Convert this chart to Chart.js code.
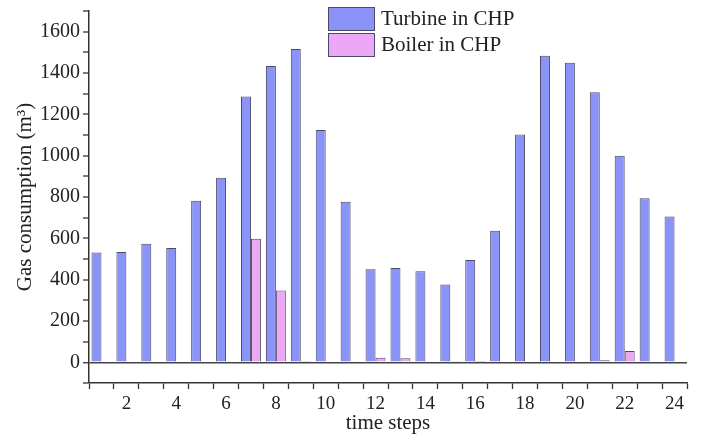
<!DOCTYPE html>
<html>
<head>
<meta charset="utf-8">
<script src="https://cdn.jsdelivr.net/npm/chart.js@4/dist/chart.umd.min.js"></script>
<style>
  html, body { margin: 0; padding: 0; background: #fff; }
  #wrap { width: 704px; height: 436px; }
</style>
</head>
<body>
<div id="wrap"><canvas id="chart"></canvas></div>
<script>
'use strict';
// data
const timeSteps = ['1','2','3','4','5','6','7','8','9','10','11','12','13','14','15','16','17','18','19','20','21','22','23','24'];
const turbine = [532, 534, 574, 553, 782, 893, 1286, 1434, 1516, 1124, 777, 451, 456, 441, 377, 495, 637, 1102, 1484, 1450, 1307, 999, 794, 706];
const boiler = [0, 0, 0, 0, 0, 0, 598, 348, 2, 0, 3, 22, 20, 3, 5, 1, 0, 0, 0, 0, 10, 55, 0, 0];
const seriesNames = ['Turbine in CHP', 'Boiler in CHP'];
const yLabels = [0, 200, 400, 600, 800, 1000, 1200, 1400, 1600];

const FONT = '"Liberation Serif", "Times New Roman", serif';
const INK = '#222';
const EDGE = '#4a4a66';

// legend drawn inside the plot, like the original
const boxLegend = {
  id: 'boxLegend',
  afterDraw(chart) {
    const ctx = chart.ctx;
    ctx.save();
    chart.data.datasets.forEach(function (ds, i) {
      const y = 7 + i * 26;
      ctx.fillStyle = ds.backgroundColor;
      ctx.fillRect(328, y, 47, 24);
      ctx.strokeStyle = EDGE;
      ctx.lineWidth = 1;
      ctx.strokeRect(328.5, y + 0.5, 46, 23);
      ctx.fillStyle = INK;
      ctx.font = '21px ' + FONT;
      ctx.textBaseline = 'middle';
      ctx.fillText(ds.label, 381, y + 12);
    });
    ctx.restore();
  }
};

new Chart(document.getElementById('chart'), {
  type: 'bar',
  data: {
    labels: timeSteps,
    datasets: [
      {
        label: seriesNames[0],
        data: turbine,
        backgroundColor: '#8a93f8',
        borderColor: EDGE,
        borderWidth: 1,
        categoryPercentage: 0.8,
        barPercentage: 1.0
      },
      {
        label: seriesNames[1],
        data: boiler,
        backgroundColor: '#eca8f4',
        borderColor: EDGE,
        borderWidth: 1,
        categoryPercentage: 0.8,
        barPercentage: 1.0
      }
    ]
  },
  options: {
    responsive: true,
    maintainAspectRatio: false,
    animation: false,
    layout: { padding: { left: 0, right: 17, top: 11, bottom: 0 } },
    plugins: {
      legend: { display: false },
      tooltip: { enabled: false }
    },
    scales: {
      x: {
        grid: {
          display: true,
          drawOnChartArea: false,
          tickLength: 6,
          tickColor: '#333',
          tickWidth: 1.3
        },
        border: { display: true, color: '#333', width: 1.5 },
        ticks: {
          autoSkip: false,
          maxRotation: 0,
          color: INK,
          font: { family: FONT, size: 19 },
          padding: 4,
          callback: function (v, i) {
            const n = Number(timeSteps[i]);
            return n % 2 === 0 ? String(n) : '';
          }
        },
        title: {
          display: true,
          text: 'time steps',
          color: INK,
          font: { family: FONT, size: 21 },
          padding: { top: -10, bottom: 0 }
        },
        afterFit: function (scale) { scale.height = 53; }
      },
      y: {
        min: -100,
        max: 1700,
        grid: {
          display: true,
          drawOnChartArea: true,
          tickLength: 6,
          tickWidth: 1.3,
          tickColor: '#333',
          lineWidth: function (c) { return c.tick && Math.round(c.tick.value) === 0 ? 1.5 : 0; },
          color: function (c) { return c.tick && Math.round(c.tick.value) === 0 ? '#444' : 'rgba(0,0,0,0)'; }
        },
        border: { display: true, color: '#333', width: 1.5 },
        ticks: {
          stepSize: 100,
          autoSkip: false,
          color: INK,
          font: { family: FONT, size: 20 },
          padding: 3,
          callback: function (v) {
            const n = Math.round(Number(v));
            return yLabels.indexOf(n) >= 0 ? String(n) : '';
          }
        },
        title: {
          display: true,
          text: 'Gas consumption (m³)',
          color: INK,
          font: { family: FONT, size: 21 },
          padding: { top: 13, bottom: 0 }
        },
        afterFit: function (scale) {
          scale.width = 89;
          scale.paddingTop = 0;
          scale.paddingBottom = 0;
        }
      }
    }
  },
  plugins: [boxLegend]
});
</script>
</body>
</html>
